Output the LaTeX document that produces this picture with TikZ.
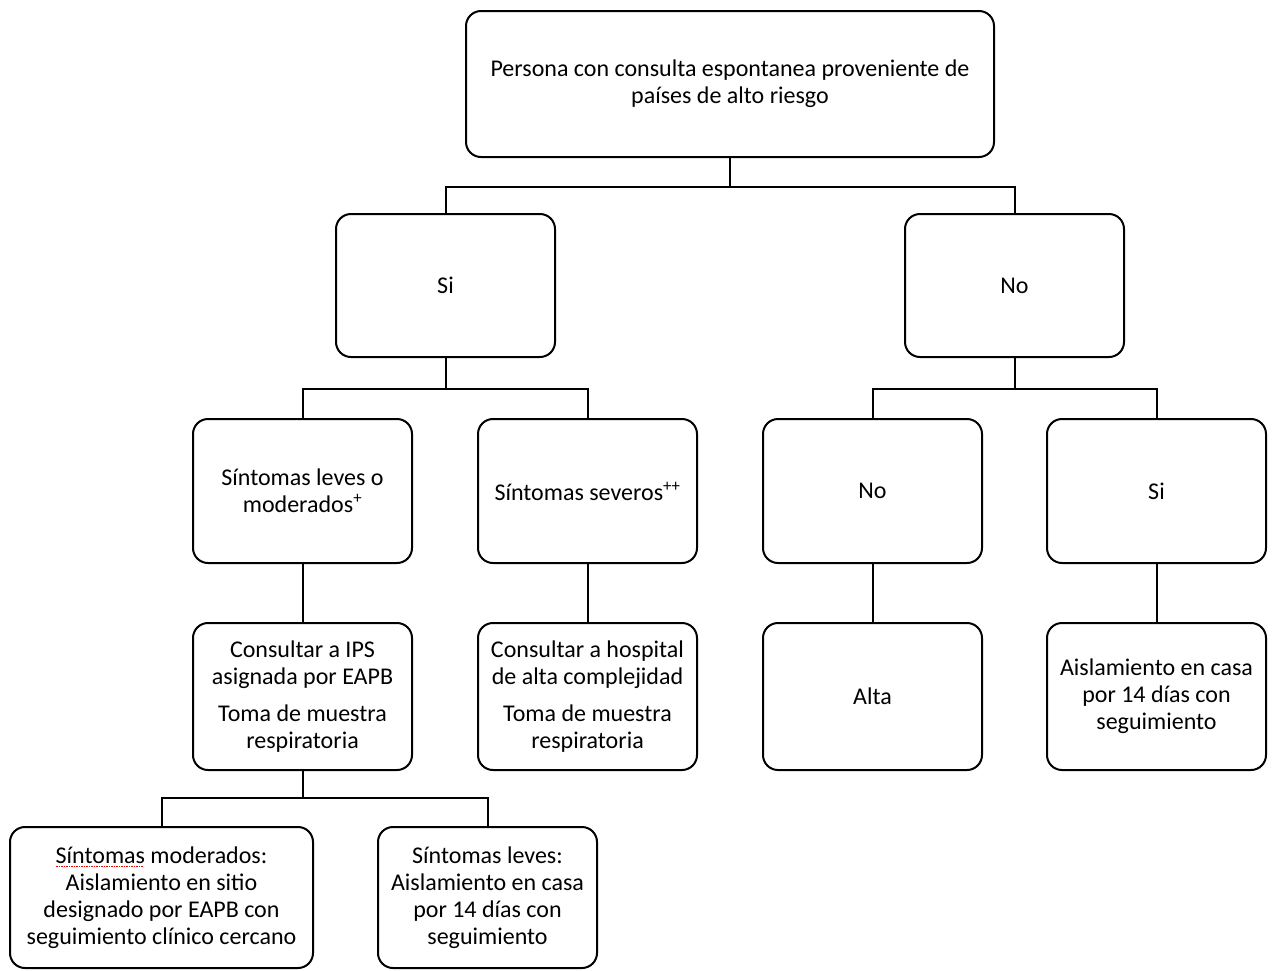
\documentclass[tikz,border=0pt]{standalone}
\usepackage{fontspec}
\setmainfont{Carlito}
\newcommand\redsquig[1]{\setbox0\hbox{#1}\rlap{\raisebox{-4pt}{\textcolor{red}{\hbox to \wd0{\leaders\hbox to 2.5pt{\hss\rule{1.2pt}{1pt}\hss}\hfill}}}}\box0\relax}
\begin{document}
\begin{tikzpicture}[x=1pt,y=-1pt,
  box/.style={draw, line width=2pt, rounded corners=15pt, align=center, inner sep=0pt,
    minimum width=219pt, font=\fontsize{24}{27}\selectfont},
  wire/.style={line width=2pt}]
\useasboundingbox (0,0) rectangle (1275,970);
\fill[white] (0,0) rectangle (1275,970);
\node[box, minimum width=528pt, minimum height=146pt] (top) at (730,84)
  {Persona con consulta espontanea proveniente de\\ países de alto riesgo};
\node[box, minimum height=143pt] (si) at (445.5,285.5) {Si};
\node[box, minimum height=143pt] (no) at (1014.5,285.5) {No};
\node[box, minimum height=144pt] (l1) at (302.5,491) {Síntomas leves o\\ moderados\textsuperscript{+}};
\node[box, minimum height=144pt] (l2) at (587.5,491) {Síntomas severos\textsuperscript{++}};
\node[box, minimum height=144pt] (l3) at (872.5,491) {No};
\node[box, minimum height=144pt] (l4) at (1156.5,491) {Si};
\node[box, minimum height=147pt] (m1) at (302.5,696.5)
  {Consultar a IPS\\ asignada por EAPB\\[10pt] Toma de muestra\\ respiratoria};
\node[box, minimum height=147pt] (m2) at (587.5,696.5)
  {Consultar a hospital\\ de alta complejidad\\[10pt] Toma de muestra\\ respiratoria};
\node[box, minimum height=147pt] (m3) at (872.5,696.5) {Alta};
\node[box, minimum height=147pt] (m4) at (1156.5,696.5)
  {Aislamiento en casa\\ por 14 días con\\ seguimiento};
\node[box, minimum width=303pt, minimum height=141pt] (b1) at (161.5,897.5)
  {\redsquig{Síntomas} moderados:\\ Aislamiento en sitio\\ designado por EAPB con\\ seguimiento clínico cercano};
\node[box, minimum height=141pt] (b2) at (487.5,897.5)
  {Síntomas leves:\\ Aislamiento en casa\\ por 14 días con\\ seguimiento};
\draw[wire] (top.south) -- ++(0,29) -| (si.north);
\draw[wire] (top.south) -- ++(0,29) -| (no.north);
\draw[wire] (si.south) -- ++(0,31) -| (l1.north);
\draw[wire] (si.south) -- ++(0,31) -| (l2.north);
\draw[wire] (no.south) -- ++(0,31) -| (l3.north);
\draw[wire] (no.south) -- ++(0,31) -| (l4.north);
\draw[wire] (l1) -- (m1);
\draw[wire] (l2) -- (m2);
\draw[wire] (l3) -- (m3);
\draw[wire] (l4) -- (m4);
\draw[wire] (m1.south) -- ++(0,27) -| (b1.north);
\draw[wire] (m1.south) -- ++(0,27) -| (b2.north);
\end{tikzpicture}
\end{document}
